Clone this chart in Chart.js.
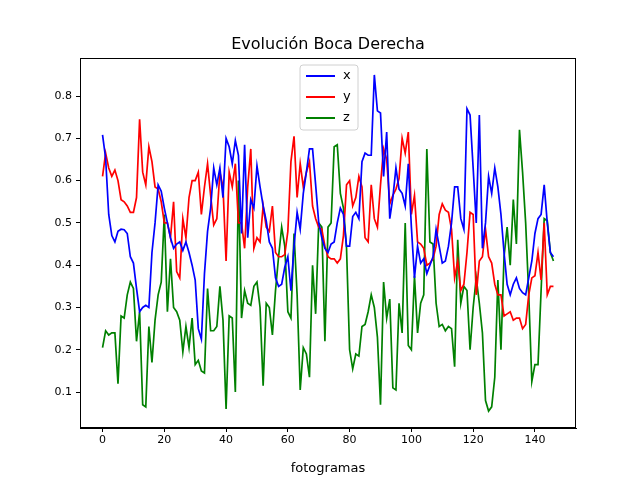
<!DOCTYPE html>
<html><head><meta charset="utf-8">
<script src="https://cdn.jsdelivr.net/npm/chart.js@4"></script>
<style>body{margin:0;background:#fff}canvas{display:block}</style>
</head><body><canvas id="c" width="640" height="480"></canvas>
<script>
const xs=[0.708,0.653,0.52,0.47,0.455,0.48,0.485,0.484,0.475,0.42,0.405,0.345,0.29,0.30,0.305,0.30,0.43,0.50,0.59,0.575,0.535,0.50,0.465,0.44,0.45,0.455,0.435,0.455,0.43,0.40,0.365,0.25,0.225,0.38,0.48,0.535,0.63,0.59,0.63,0.56,0.70,0.68,0.64,0.695,0.66,0.475,0.685,0.465,0.555,0.535,0.635,0.585,0.54,0.505,0.455,0.44,0.37,0.35,0.355,0.395,0.42,0.34,0.445,0.525,0.485,0.57,0.62,0.675,0.675,0.59,0.50,0.465,0.44,0.43,0.45,0.455,0.50,0.535,0.52,0.445,0.445,0.515,0.525,0.51,0.645,0.665,0.66,0.66,0.85,0.765,0.76,0.61,0.715,0.51,0.56,0.63,0.58,0.57,0.54,0.64,0.49,0.37,0.445,0.405,0.415,0.38,0.40,0.42,0.485,0.445,0.405,0.41,0.445,0.50,0.585,0.585,0.51,0.485,0.77,0.755,0.63,0.50,0.755,0.44,0.50,0.61,0.57,0.63,0.585,0.52,0.43,0.355,0.33,0.355,0.37,0.345,0.335,0.33,0.37,0.41,0.475,0.51,0.52,0.59,0.50,0.43,0.42];
const ys=[0.61,0.665,0.63,0.61,0.625,0.60,0.555,0.55,0.54,0.525,0.525,0.56,0.745,0.62,0.59,0.68,0.645,0.585,0.58,0.55,0.50,0.50,0.465,0.55,0.385,0.37,0.51,0.465,0.56,0.60,0.60,0.62,0.52,0.585,0.64,0.565,0.495,0.51,0.62,0.585,0.41,0.62,0.585,0.64,0.50,0.50,0.44,0.585,0.675,0.44,0.465,0.455,0.54,0.49,0.48,0.54,0.43,0.42,0.42,0.425,0.48,0.645,0.705,0.56,0.64,0.585,0.62,0.645,0.54,0.51,0.49,0.485,0.445,0.42,0.415,0.415,0.405,0.415,0.47,0.59,0.60,0.54,0.56,0.61,0.585,0.465,0.455,0.59,0.51,0.49,0.59,0.675,0.65,0.545,0.565,0.58,0.605,0.70,0.665,0.715,0.52,0.565,0.455,0.45,0.44,0.40,0.405,0.415,0.445,0.52,0.545,0.53,0.525,0.485,0.37,0.41,0.34,0.355,0.43,0.525,0.52,0.33,0.41,0.42,0.485,0.42,0.405,0.355,0.33,0.33,0.28,0.285,0.29,0.27,0.275,0.275,0.25,0.26,0.33,0.37,0.375,0.43,0.365,0.50,0.33,0.35,0.35];
const zs=[0.205,0.245,0.235,0.24,0.24,0.12,0.28,0.275,0.33,0.36,0.345,0.22,0.29,0.07,0.065,0.255,0.17,0.27,0.33,0.36,0.52,0.29,0.415,0.30,0.29,0.27,0.195,0.255,0.205,0.275,0.165,0.175,0.15,0.145,0.345,0.245,0.245,0.255,0.35,0.27,0.06,0.28,0.275,0.10,0.60,0.275,0.34,0.31,0.305,0.35,0.36,0.30,0.115,0.31,0.30,0.235,0.34,0.42,0.49,0.445,0.29,0.275,0.475,0.33,0.105,0.205,0.19,0.135,0.40,0.285,0.50,0.49,0.22,0.49,0.50,0.68,0.685,0.57,0.535,0.44,0.20,0.155,0.19,0.185,0.255,0.26,0.29,0.33,0.30,0.23,0.07,0.36,0.275,0.32,0.11,0.105,0.31,0.24,0.50,0.21,0.20,0.375,0.24,0.31,0.33,0.675,0.455,0.45,0.31,0.255,0.26,0.245,0.255,0.25,0.16,0.46,0.31,0.35,0.34,0.20,0.30,0.37,0.31,0.24,0.08,0.055,0.065,0.135,0.365,0.20,0.42,0.49,0.40,0.555,0.45,0.72,0.62,0.50,0.33,0.125,0.165,0.165,0.34,0.51,0.505,0.43,0.41];
const names=['x','y','z'];
const colors=['#0000ff','#ff0000','#008000'];
const xTicks=[0,20,40,60,80,100,120,140];
const yTicks=[0.1,0.2,0.3,0.4,0.5,0.6,0.7,0.8];
const F='"DejaVu Sans"';
const series=[xs,ys,zs];
const datasets=series.map((s,i)=>({label:names[i],data:s.map((v,k)=>({x:k,y:v})),borderColor:colors[i],borderWidth:1.7,pointRadius:0,fill:false,tension:0}));
const deco={id:'deco',afterDraw(ch){const c=ch.ctx,a=ch.chartArea;c.save();
c.strokeStyle='#000';c.lineWidth=1;c.strokeRect(a.left+0.5,a.top+0.5,a.right-a.left-1,a.bottom-a.top-1);
c.fillStyle='#000';c.font='16px '+F;c.textAlign='center';c.textBaseline='alphabetic';c.fillText('Evolución Boca Derecha',(a.left+a.right)/2,49);
// legend
const lx=300,ly=65,w=58,h=65;c.fillStyle='rgba(255,255,255,0.8)';c.strokeStyle='#d0d0d0';c.beginPath();c.roundRect(lx,ly,w,h,3);c.fill();c.stroke();
c.font='13px '+F;c.textAlign='left';c.textBaseline='middle';
names.forEach((n,i)=>{const yy=ly+11+i*21;c.strokeStyle=colors[i];c.lineWidth=2;c.beginPath();c.moveTo(lx+6,yy);c.lineTo(lx+35,yy);c.stroke();c.fillStyle='#000';c.fillText(n,lx+43,yy);});
c.restore();}};
new Chart(document.getElementById('c'),{type:'line',data:{datasets},plugins:[deco],
options:{responsive:false,animation:false,layout:{padding:{left:0,right:64,top:58,bottom:0}},
plugins:{legend:{display:false},tooltip:{enabled:false}},
scales:{
x:{type:'linear',min:-7.3,max:153.3,afterFit(s){s.height=52;},afterBuildTicks(s){s.ticks=xTicks.map(v=>({value:v}));},
ticks:{color:'#000',font:{family:F,size:11},padding:2,maxRotation:0},
grid:{drawOnChartArea:false,drawTicks:true,tickLength:4,color:'#000'},border:{color:'#000'},
title:{display:true,text:'fotogramas',color:'#000',font:{family:F,size:13},padding:{top:0}}},
y:{min:0.015,max:0.89,afterFit(s){s.width=80;},afterBuildTicks(s){s.ticks=yTicks.map(v=>({value:v}));},
ticks:{color:'#000',font:{family:F,size:11},padding:4,callback:v=>v.toFixed(1)},
grid:{drawOnChartArea:false,drawTicks:true,tickLength:4,color:'#000'},border:{color:'#000'}}}}});
</script></body></html>
